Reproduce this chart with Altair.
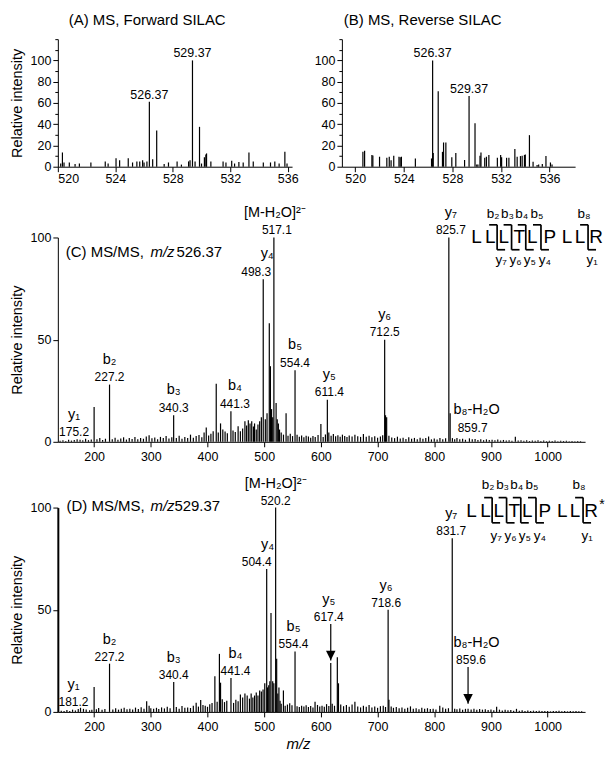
import altair as alt
import pandas as pd

FONT = "Liberation Sans"

# ---------------- Panel A : MS, forward SILAC ----------------
a_mz = [520.2, 520.32, 520.43, 520.8, 521.2, 521.5, 522.3, 523.3, 523.5, 524.05,
        524.3, 524.9, 525.2, 525.5, 525.7, 525.9, 526.0, 526.2, 526.37, 526.6,
        526.88, 527.4, 527.7, 528.3, 528.6, 529.1, 529.2, 529.37, 529.55, 529.86,
        530.0, 530.2, 530.3, 530.35, 530.65, 531.5, 531.7, 532.1, 532.3, 532.6,
        532.9, 533.3, 533.6, 534.3, 534.8, 535.1, 535.4, 535.8, 535.95]
a_int = [3, 13.4, 4, 4, 2.5, 3, 4, 5, 3, 8,
         6, 8, 4, 5, 5, 6, 4, 5, 61, 7,
         34, 2.5, 4, 5, 2, 5, 6, 100, 5, 37.5,
         3, 9, 11.5, 12.5, 5, 5, 4, 5.6, 3, 4.5,
         4, 13.4, 5, 4, 4, 5, 3, 14, 3]
a_label_mz = [526.37, 529.37]
a_label_int = [61, 100]

# ---------------- Panel B : MS, reverse SILAC ----------------
b_mz = [520.63, 520.77, 521.37, 521.45, 522.0, 522.6, 522.8, 522.95, 523.17, 523.6,
        523.7, 523.8, 524.95, 526.28, 526.37, 526.42, 526.83, 527.18, 527.27, 527.46,
        527.95, 528.28, 529.0, 529.37, 529.86, 530.0, 530.1, 530.27, 530.35, 530.66,
        530.8, 531.0, 531.7, 531.97, 532.05, 532.46, 532.65, 533.14, 533.33, 533.6,
        533.74, 533.93, 534.0, 534.34, 534.64, 534.97, 535.1, 535.4, 535.7, 536.07,
        536.2]
b_int = [14, 15, 11, 10.6, 9.4, 8.4, 9.4, 6, 10.3, 9.4,
         9, 9.4, 7.8, 7.8, 100, 13, 71, 14, 22.8, 22.8,
         8.8, 13, 6.3, 66.5, 41, 2, 2, 10.3, 13.4, 8.4,
         9.4, 11, 8.4, 11, 9, 8.4, 8.4, 16.6, 9.4, 10,
         10.3, 11, 11.6, 29.7, 4.7, 1.6, 2, 2.5, 10, 4,
         2]
b_label_mz = [526.37, 529.37]
b_label_int = [100, 66.5]

# ---------------- Panel C : MS/MS m/z 526.37 ----------------
c_mz = [175.2, 200.0, 227.2, 340.3, 397.8, 415.4, 423.0, 441.3, 454.0, 466.0,
        478.0, 483.0, 498.3, 509.0, 511.0, 517.1, 521.0, 525.0, 538.6, 554.4,
        600.0, 611.4, 712.5, 714.0, 716.0, 825.7, 828.0, 943.0]
c_int = [1.0, 17, 28, 13, 7, 28.4, 9, 15, 7.6, 10,
         10, 9, 79.5, 58, 37, 100, 19, 9, 14, 35,
         8.7, 20.6, 50, 13, 12, 100, 14, 2.5]
cn_mz = [140, 145, 150, 155, 160, 165, 170, 180, 185, 190,
         195, 205, 210, 215, 220, 232, 237, 242, 247, 252,
         257, 262, 267, 272, 277, 282, 287, 292, 297, 302,
         307, 312, 317, 322, 327, 332, 337, 345, 350, 355,
         360, 365, 370, 375, 380, 385, 390, 394, 402, 406,
         410, 419, 427, 431, 435, 445, 449, 458, 462, 469,
         472, 475, 481, 486, 489, 492, 495, 502, 505, 513,
         515, 523, 527, 530, 534, 542, 546, 550, 558, 562,
         566, 570, 574, 578, 582, 586, 590, 595, 604, 608,
         614, 618, 622, 626, 630, 634, 638, 642, 646, 650,
         655, 660, 665, 670, 675, 680, 685, 690, 695, 700,
         705, 709, 720, 725, 730, 735, 740, 745, 750, 755,
         760, 765, 770, 775, 780, 785, 790, 795, 800, 805,
         810, 815, 820, 832, 836, 840, 845, 850, 855, 862,
         867, 872, 877, 882, 887, 892, 897, 902, 907, 912,
         917, 922, 927, 932, 937, 948, 953, 958, 963, 968,
         973, 978, 983, 988, 993, 998, 1003, 1008, 1013, 1018,
         1023, 1028, 1033, 1038, 1043, 1048, 1053, 1058]
cn_int = [0.5, 0.8, 0.4, 1.0, 0.6, 0.9, 1.2, 0.7, 1.5, 0.8,
          1.1, 1.2, 1.8, 0.9, 1.5, 1.3, 2.0, 1.0, 1.6, 2.2,
          1.1, 1.8, 1.4, 2.3, 1.2, 1.9, 1.5, 2.6, 3.2, 1.7,
          2.1, 1.3, 2.4, 1.8, 2.8, 1.6, 2.2, 1.9, 3.0, 1.5,
          2.4, 1.8, 3.5, 2.0, 2.8, 3.3, 2.2, 4.5, 3.1, 4.0,
          5.2, 4.5, 6.0, 5.0, 4.2, 5.5, 4.8, 5.2, 6.5, 8.0,
          10.5, 9.0, 7.5, 6.0, 8.5, 10.0, 12.0, 11.0, 14.0, 16.0,
          12.0, 11.0, 6.0, 4.5, 3.5, 3.0, 4.0, 2.8, 3.5, 2.5,
          3.1, 2.2, 3.0, 2.6, 2.0, 2.8, 2.3, 3.3, 2.4, 3.6,
          4.5, 3.0, 3.8, 2.7, 3.2, 2.5, 3.5, 2.8, 2.3, 3.1,
          2.6, 3.4, 2.7, 2.4, 3.8, 2.5, 3.0, 2.2, 2.7, 2.0,
          2.6, 3.2, 3.0, 2.1, 1.8, 2.5, 1.6, 2.0, 1.4, 2.2,
          1.5, 1.9, 1.3, 2.0, 1.5, 1.8, 2.6, 1.2, 1.6, 1.1,
          1.9, 1.3, 1.7, 1.8, 1.3, 1.9, 1.2, 1.5, 1.0, 1.7,
          1.2, 1.4, 0.9, 1.3, 0.8, 1.2, 0.9, 1.0, 0.7, 1.1,
          0.6, 0.9, 0.6, 0.8, 0.5, 0.6, 0.8, 0.5, 0.7, 0.4,
          0.6, 0.5, 0.7, 0.4, 0.6, 0.3, 0.5, 0.4, 0.6, 0.3,
          0.5, 0.4, 0.5, 0.3, 0.4, 0.3, 0.4, 0.3]
c_ions = ["y₁", "b₂", "b₃", "b₄", "y₄", "[M-H₂O]²⁻", "b₅", "y₅", "y₆", "y₇", "b₈-H₂O"]
c_ion_mz = [175.2, 227.2, 340.3, 441.3, 498.3, 517.1, 554.4, 611.4, 712.5, 825.7, 859.7]
c_ion_int = [1.0, 28, 13, 15, 79.5, 100, 35, 20.6, 50, 100, 3.2]

# ---------------- Panel D : MS/MS m/z 529.37 ----------------
d_mz = [181.2, 200.0, 227.2, 292.7, 340.4, 388.0, 413.0, 421.0, 423.0, 441.4,
        483.0, 495.0, 498.0, 501.0, 504.4, 508.0, 512.0, 515.0, 520.2, 522.0,
        526.0, 533.9, 554.4, 589.7, 617.4, 629.0, 631.0, 660.0, 718.6, 720.0,
        809.7, 831.7, 859.6, 910.0]
d_int = [1.5, 12.2, 23.6, 5.2, 14.6, 5.8, 17.5, 28.4, 14.3, 16.6,
         8, 10, 11, 14, 69.9, 13, 48.4, 15, 100, 26,
         12, 10.5, 29.6, 5, 23.9, 26.8, 14, 5, 50, 6,
         3, 85, 1.5, 2.5]
dn_mz = [142, 147, 152, 157, 162, 167, 172, 176, 186, 192,
         196, 204, 208, 214, 219, 233, 238, 243, 248, 253,
         258, 263, 268, 273, 278, 283, 288, 297, 300, 305,
         310, 314, 319, 324, 329, 334, 345, 350, 355, 360,
         365, 370, 375, 380, 384, 392, 396, 400, 404, 408,
         417, 426, 430, 434, 446, 450, 454, 458, 462, 466,
         470, 474, 477, 480, 486, 489, 492, 506, 510, 517,
         524, 528, 530, 537, 541, 545, 549, 558, 562, 566,
         570, 574, 578, 582, 586, 594, 598, 602, 606, 610,
         614, 620, 624, 635, 640, 645, 650, 655, 665, 670,
         675, 680, 685, 690, 695, 700, 705, 710, 714, 724,
         728, 733, 738, 743, 748, 753, 758, 763, 768, 773,
         778, 783, 788, 793, 798, 803, 815, 820, 825, 836,
         840, 845, 850, 855, 865, 870, 875, 880, 885, 890,
         895, 900, 905, 915, 920, 925, 930, 935, 940, 945,
         950, 955, 960, 965, 970, 975, 980, 985, 990, 995,
         1000, 1005, 1010, 1015, 1020, 1025, 1030, 1035, 1040, 1045,
         1050, 1055, 1060]
dn_int = [0.6, 0.4, 0.9, 0.5, 1.1, 0.7, 1.4, 2.0, 1.2, 0.8,
          1.0, 1.3, 1.9, 1.0, 1.4, 1.2, 1.8, 1.1, 1.5, 2.0,
          1.3, 1.6, 1.2, 2.1, 1.4, 2.3, 1.6, 3.0, 1.8, 1.5,
          2.0, 1.4, 2.2, 1.7, 2.5, 1.8, 2.4, 1.6, 2.9, 2.0,
          2.2, 1.9, 3.0, 4.5, 2.6, 3.4, 3.0, 2.5, 3.8, 4.4,
          5.0, 6.2, 4.8, 5.5, 4.4, 6.0, 5.2, 8.5, 7.0, 9.0,
          8.0, 6.5, 9.0, 7.0, 9.5, 8.0, 10.5, 12.0, 15.0, 14.0,
          9.0, 5.5, 4.0, 3.0, 3.6, 4.2, 3.2, 2.8, 2.4, 3.0,
          2.6, 3.2, 2.4, 2.9, 2.2, 3.4, 2.6, 3.0, 2.5, 3.8,
          2.9, 4.0, 3.0, 3.6, 2.8, 3.4, 2.5, 3.6, 2.6, 2.2,
          3.0, 2.5, 3.4, 2.2, 2.7, 2.0, 2.8, 3.0, 2.4, 2.6,
          2.0, 2.4, 1.8, 2.2, 1.6, 2.0, 2.7, 1.5, 1.8, 1.3,
          2.0, 1.5, 1.8, 1.4, 1.6, 1.2, 2.2, 1.5, 1.8, 1.6,
          1.3, 1.7, 1.1, 1.5, 1.2, 1.6, 1.0, 1.4, 1.1, 1.3,
          0.9, 1.2, 0.8, 1.1, 0.7, 1.0, 0.8, 0.9, 0.6, 1.5,
          0.6, 0.8, 0.5, 0.7, 0.5, 0.6, 0.4, 0.6, 0.5, 0.4,
          0.5, 0.3, 0.5, 0.4, 0.6, 0.3, 0.4, 0.3, 0.5, 0.3,
          0.4, 0.3, 0.3]
d_ions = ["y₁", "b₂", "b₃", "b₄", "y₄", "[M-H₂O]²⁻", "b₅", "y₅", "y₆", "y₇", "b₈-H₂O"]
d_ion_mz = [181.2, 227.2, 340.4, 441.4, 504.4, 520.2, 554.4, 617.4, 718.6, 831.7, 859.6]
d_ion_int = [1.5, 23.6, 14.6, 16.6, 69.9, 100, 29.6, 43, 50, 85, 22]
d_arrow_mz = [617.4, 859.6]
d_arrow_top = [43, 22]
d_arrow_tip = [25.2, 4]

# ---------------- peptide ----------------
peptide = list("LLLTLPLLR")
cleave_after = [1, 2, 3, 4, 7]
cleave_b = ["b₂", "b₃", "b₄", "b₅", "b₈"]
cleave_y = ["y₇", "y₆", "y₅", "y₄", "y₁"]

# ---------------- layout constants ----------------
W_MS2, H_MS2 = 529, 205
MZ0, MZ1 = 136, 1066
PXU = W_MS2 / (MZ1 - MZ0)      # px per m/z unit
PYU = H_MS2 / 100.0            # px per % intensity
PLOT_LEFT = 57
pep_offsets = [0, 14, 27.5, 43, 56, 73.5, 91, 104, 120]

xA = alt.Scale(domain=[520, 536.3], nice=False, zero=False)
xB = alt.Scale(domain=[518.9, 538.1], nice=False, zero=False)
yAB = alt.Scale(domain=[0, 120], nice=False, zero=True)
xMS2 = alt.Scale(domain=[MZ0, MZ1], nice=False, zero=False)
yMS2 = alt.Scale(domain=[0, 100], nice=False)


def to_mz(px):
    return MZ0 + (px - PLOT_LEFT) / PXU


def to_int(py, base):
    return (base - py) / PYU


def rules(df, xs, ys, xaxis, yaxis, width=1.2):
    return alt.Chart(df).mark_rule(color="black", strokeWidth=width).encode(
        x=alt.X("mz:Q", scale=xs, axis=xaxis),
        y=alt.Y("int:Q", scale=ys, axis=yaxis),
        y2=alt.datum(0),
    )


def texts(df, xs, ys, **kw):
    return alt.Chart(df).mark_text(font=FONT, color="black", **kw).encode(
        x=alt.X("mz:Q", scale=xs),
        y=alt.Y("int:Q", scale=ys),
        text="txt:N",
    )


def segs(df, xs, ys, width=1.6):
    return alt.Chart(df).mark_rule(color="black", strokeWidth=width).encode(
        x=alt.X("mz:Q", scale=xs), x2="mz2:Q",
        y=alt.Y("int:Q", scale=ys), y2="int2:Q",
    )


# ---------------- row 1 (A and B) ----------------
ms_ticks = [520, 524, 528, 532, 536]
ms1_y_ticks = [0, 10, 20, 30, 40, 50, 60, 70, 80, 90, 100, 110, 120]
MAJOR_TEST = "datum.value % 20 === 0 && datum.value <= 100"


def ms1_panel(mz, inten, lab_mz, lab_int, title, title_mz, xs, width, ytitle):
    df = pd.DataFrame({"mz": mz, "int": inten})
    yaxis = alt.Axis(values=ms1_y_ticks, tickCount=30, title=ytitle, format="d",
                     labelOverlap=False,
                     labelExpr=f"({MAJOR_TEST}) ? datum.label : ''",
                     tickSize={"condition": {"test": MAJOR_TEST, "value": 5}, "value": 3})
    base = rules(df, xs, yAB,
                 alt.Axis(values=ms_ticks, tickCount=20, title=None, labelPadding=1,
                          format="d", labelOverlap=False),
                 yaxis)
    lbl = texts(pd.DataFrame({"mz": lab_mz, "int": lab_int, "txt": [f"{v:.2f}" for v in lab_mz]}),
                xs, yAB, dy=-7, fontSize=12.5)
    ttl = texts(pd.DataFrame({"mz": [title_mz], "int": [133.4], "txt": [title]}),
                xs, yAB, align="left", baseline="alphabetic", fontSize=15)
    return alt.layer(base, lbl, ttl).properties(width=width, height=128)


panelA = ms1_panel(a_mz, a_int, a_label_mz, a_label_int, "(A) MS, Forward SILAC", 520.76, xA, 235,
                   "Relative intensity")
panelB = ms1_panel(b_mz, b_int, b_label_mz, b_label_int, "(B) MS, Reverse SILAC", 519.06, xB, 234,
                   None)
row1 = alt.hconcat(panelA, panelB, spacing=15)


# ---------------- MS/MS panels ----------------
def ion_layers(ions, mzs, anchors, shifts, dy_num, dy_ion):
    num_rows, ion_rows = [], []
    for ion, mz, a in zip(ions, mzs, anchors):
        dn, di = shifts.get(ion, (0, 0))
        num_rows.append({"mz": mz + dn / PXU, "int": a, "txt": f"{mz:.1f}"})
        ion_rows.append({"mz": mz + di / PXU, "int": a, "txt": ion})
    return [texts(pd.DataFrame(num_rows), xMS2, yMS2, dy=dy_num, fontSize=12),
            texts(pd.DataFrame(ion_rows), xMS2, yMS2, dy=dy_ion, fontSize=14.5)]


def title_layers(parts, px_list, py, base):
    out = []
    for txt, px, style in zip(parts, px_list, ["normal", "italic", "normal"]):
        out.append(texts(pd.DataFrame({"mz": [to_mz(px)], "int": [to_int(py, base)], "txt": [txt]}),
                         xMS2, yMS2, align="left", fontSize=15, fontStyle=style))
    return out


def peptide_layers(start_px, letter_py, top_py, bot_py, blab_py, ylab_py, base):
    let = pd.DataFrame({"mz": [to_mz(start_px + o) for o in pep_offsets],
                        "int": [to_int(letter_py, base)] * len(peptide), "txt": peptide})
    cut_px = [start_px + (pep_offsets[i] + pep_offsets[i + 1]) / 2 for i in cleave_after]
    t, b = to_int(top_py, base), to_int(bot_py, base)
    seg_rows = []
    for c in cut_px:
        seg_rows.append({"mz": to_mz(c - 8), "mz2": to_mz(c), "int": t, "int2": t})
        seg_rows.append({"mz": to_mz(c), "mz2": to_mz(c), "int": t, "int2": b})
        seg_rows.append({"mz": to_mz(c), "mz2": to_mz(c + 8), "int": b, "int2": b})
    blab = pd.DataFrame({"mz": [to_mz(c - 4) for c in cut_px],
                         "int": [to_int(blab_py, base)] * len(cut_px), "txt": cleave_b})
    ylab = pd.DataFrame({"mz": [to_mz(c + 4) for c in cut_px],
                         "int": [to_int(ylab_py, base)] * len(cut_px), "txt": cleave_y})
    return [texts(let, xMS2, yMS2, fontSize=19),
            segs(pd.DataFrame(seg_rows), xMS2, yMS2, width=1.7),
            texts(blab, xMS2, yMS2, fontSize=13.5),
            texts(ylab, xMS2, yMS2, fontSize=13.5)]


ms2_ticks = [200, 300, 400, 500, 600, 700, 800, 900, 1000]

# Panel C
C_BASE = 442
dfC = pd.concat([pd.DataFrame({"mz": cn_mz, "int": cn_int}),
                 pd.DataFrame({"mz": c_mz, "int": c_int})], ignore_index=True)
c_layers = [rules(dfC, xMS2, yMS2,
                  alt.Axis(values=ms2_ticks, tickCount=30, title=None, labelPadding=4,
                           format="d"),
                  alt.Axis(values=[0, 50, 100], tickCount=10, title="Relative intensity",
                           format="d"))]
c_shift = {"y₁": (-6, -6), "b₄": (4, 4), "y₄": (-7, 4), "[M-H₂O]²⁻": (3, 1),
           "y₅": (2, 2), "y₇": (2, 2), "b₈-H₂O": (4.5, 8.5)}
c_layers += ion_layers(c_ions, c_ion_mz, c_ion_int, c_shift, -7.5, -25)
c_layers += title_layers(["(C) MS/MS, ", "m/z", "526.37"], [65, 150, 176], 251.7, C_BASE)
c_layers += peptide_layers(477, 236.7, 224.3, 249.3, 213.3, 260, C_BASE)
panelC = alt.layer(*c_layers).properties(width=W_MS2, height=H_MS2)

# Panel D
D_BASE = 713
dfD = pd.concat([pd.DataFrame({"mz": dn_mz, "int": dn_int}),
                 pd.DataFrame({"mz": d_mz, "int": d_int})], ignore_index=True)
d_layers = [rules(dfD, xMS2, yMS2,
                  alt.Axis(values=ms2_ticks, tickCount=30, title="m/z", titleFontStyle="italic",
                           titleFontSize=15, titleX=241, titlePadding=3, labelPadding=4,
                           format="d"),
                  alt.Axis(values=[0, 50, 100], tickCount=10, title="Relative intensity",
                           domainWidth=2, format="d"))]
d_shift = {"y₁": (-10, -10), "b₄": (4.5, 4.5), "y₄": (-10, 1), "b₅": (-1.5, -1.5),
           "y₅": (-2, -2), "y₆": (-2, -2), "y₇": (-1, -1), "b₈-H₂O": (3, 8.5)}
d_layers += ion_layers(d_ions, d_ion_mz, d_ion_int, d_shift, -7, -24)
arrow_df = pd.DataFrame({"mz": d_arrow_mz, "mz2": d_arrow_mz,
                         "int": d_arrow_top, "int2": d_arrow_tip})
d_layers.append(segs(arrow_df, xMS2, yMS2, width=1.2))
tri_df = pd.DataFrame({"mz": d_arrow_mz, "int": [t + 5 / PYU for t in d_arrow_tip]})
d_layers.append(alt.Chart(tri_df).mark_point(shape="M-1,-1L1,-1L0,1Z", filled=True, size=90,
                                             color="black", opacity=1).encode(
    x=alt.X("mz:Q", scale=xMS2), y=alt.Y("int:Q", scale=yMS2)))
d_layers += title_layers(["(D) MS/MS, ", "m/z", "529.37"], [65.8, 150, 174], 506.7, D_BASE)
d_layers += peptide_layers(472, 511.7, 498, 523.3, 485, 536.7, D_BASE)
d_layers.append(texts(pd.DataFrame({"mz": [to_mz(603)], "int": [to_int(505, D_BASE)], "txt": ["*"]}),
                      xMS2, yMS2, fontSize=14))
panelD = alt.layer(*d_layers).properties(width=W_MS2, height=H_MS2)

cd = alt.vconcat(panelC, panelD, spacing=12)

chart = alt.vconcat(row1, cd, spacing=19).properties(
    padding={"left": 1, "top": 3, "right": 2, "bottom": 2}
).configure_view(stroke=None).configure_axis(
    grid=False, domainColor="black", tickColor="black", labelColor="black", titleColor="black",
    labelFont=FONT, titleFont=FONT, labelFontSize=12.5, titleFontSize=14.5,
    titleFontWeight="normal", tickSize=5, labelPadding=2, domainWidth=1, tickWidth=1,
    titlePadding=6, labelOverlap=False, labelBound=False
)

chart.save("out.html", embed_options={"renderer": "svg", "actions": False})
